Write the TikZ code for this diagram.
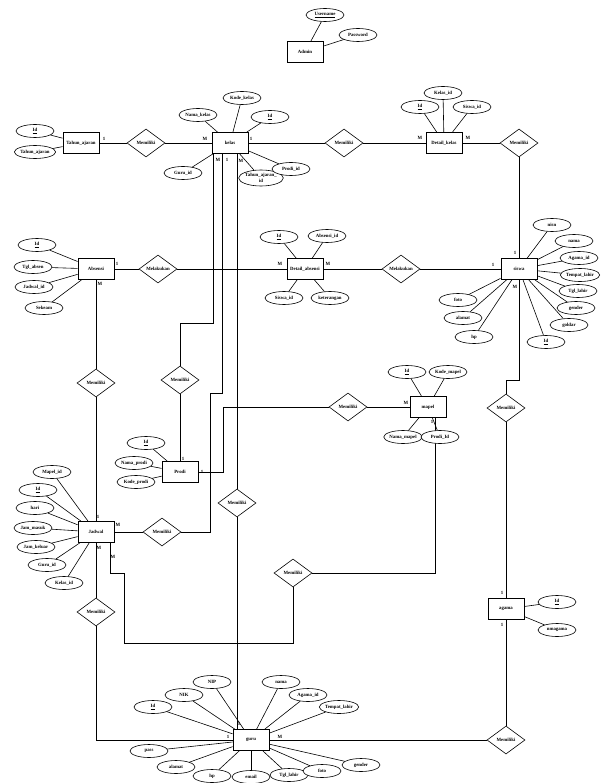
\documentclass[tikz,border=0pt]{standalone}
\usepackage{fontspec}
\setmainfont{Liberation Serif}
\usetikzlibrary{shapes.geometric}
\begin{document}
\begin{tikzpicture}[x=1pt,y=-1pt,
  every node/.style={font=\fontsize{4.8}{5.4}\selectfont\bfseries, inner sep=0pt},
  ent/.style={draw, line width=0.9pt, minimum width=36pt, minimum height=21pt},
  att/.style={draw, ellipse, line width=0.6pt, minimum width=38pt, minimum height=13pt, fill=white},
  rel/.style={draw, diamond, line width=0.6pt, minimum width=38pt, minimum height=28pt},
  card/.style={font=\fontsize{4.8}{5.4}\selectfont\bfseries},
  lnk/.style={line width=0.6pt}]
\useasboundingbox (0,0) rectangle (605,783);

% ---------- bend points ----------
\coordinate (b1) at (519,380); \coordinate (b2) at (506,380);
\coordinate (g1) at (96,740);
\coordinate (k1) at (210,532); \coordinate (k2) at (210,393); \coordinate (k3) at (222,393);
\coordinate (m1) at (110,573); \coordinate (m2) at (124,573); \coordinate (m3) at (124,643);
\coordinate (m4) at (293,643); \coordinate (m5) at (435,573);
\coordinate (p1) at (213,323); \coordinate (p2) at (180,323);
\coordinate (q1) at (223,472); \coordinate (q2) at (223,407);

% ---------- entities and relations ----------
\node[ent] (admin) at (305,52) {Admin};
\node[ent] (tahun) at (81,143) {Tahun\_ajaran};
\node[rel] (rTk) at (146,143) {Memiliki};
\node[ent] (kelas) at (230,143) {kelas};
\node[rel] (rKd) at (344,143) {Memiliki};
\node[ent] (dkelas) at (444,143) {Detail\_kelas};
\node[rel] (rDs) at (519,143) {Memiliki};
\node[ent] (siswa) at (519,269) {siswa};
\node[ent] (absensi) at (96,269) {Absensi};
\node[rel] (rAb) at (158,269) {Melakukan};
\node[ent] (dabs) at (305,269) {Detail\_absensi};
\node[rel] (rDa) at (401,269) {Melakukan};
\node[ent] (prodi) at (180,472) {Prodi};
\node[rel] (rKp) at (180,380) {Memiliki};
\node[rel] (rPm) at (348,407) {Memiliki};
\node[ent] (mapel) at (428,407) {mapel};
\node[ent] (jadwal) at (96,532) {Jadwal};
\node[rel] (rAj) at (96,383) {Memiliki};
\node[rel] (rJk) at (162,532) {Memiliki};
\node[rel] (rJm) at (293,573) {Memiliki};
\node[rel] (rJg) at (96,612) {Memiliki};
\node[rel] (rKg) at (237,503) {Memiliki};
\node[rel] (rAg) at (506,408) {Memiliki};
\node[ent] (agama) at (506,609) {agama};
\node[rel] (rGa) at (506,740) {Memiliki};
\node[ent] (guru) at (251,740) {guru};

% ---------- relationship connectors ----------
\draw[lnk] (tahun) -- (rTk) -- (kelas);
\draw[lnk] (kelas) -- (rKd) -- (dkelas);
\draw[lnk] (dkelas) -- (rDs) -- (siswa);
\draw[lnk] (absensi) -- (rAb) -- (dabs) -- (rDa) -- (siswa);
\draw[lnk] (siswa.south) -- (b1) -- (b2) -- (rAg.north);
\draw[lnk] (rAg) -- (agama);
\draw[lnk] (agama) -- (rGa);
\draw[lnk] (guru) -- (rGa);
\draw[lnk] (absensi) -- (rAj) -- (jadwal);
\draw[lnk] (jadwal) -- (rJg) -- (g1) -- (guru.west);
\draw[lnk] (jadwal) -- (rJk) -- (k1) -- (k2) -- (k3) -- (kelas.south -| k3);
\draw[lnk] (jadwal.south -| m1) -- (m1) -- (m2) -- (m3) -- (m4) -- (rJm) -- (m5) -- (mapel.south -| m5);
\draw[lnk] (kelas.south -| p1) -- (p1) -- (p2) -- (rKp) -- (prodi);
\draw[lnk] (kelas.south -| rKg) -- (rKg) -- (guru.north -| rKg);
\draw[lnk] (prodi.east |- q1) -- (q1) -- (q2) -- (rPm) -- (mapel);

% ---------- attributes ----------
\node[att] (aUser) at (325,15) {\underline{Username}};
\node[att] (aPass) at (358,35) {Password};
\foreach \a in {aUser,aPass} \draw[lnk] (admin) -- (\a);

\node[att] (tId) at (35,131) {\underline{Id}};
\node[att] (tTa) at (35,152) {Tahun\_ajaran};
\foreach \a in {tId,tTa} \draw[lnk] (tahun) -- (\a);

\node[att] (kNama) at (198,115) {Nama\_kelas};
\node[att] (kKode) at (242,98) {Kode\_kelas};
\node[att] (kId) at (270,117) {\underline{Id}};
\node[att] (kGuru) at (183,173) {Guru\_id};
\node[att, align=center, minimum height=16pt] (kTa) at (261,178) {Tahun\_ajaran\_\\id};
\node[att] (kProdi) at (291,169) {Prodi\_id};
\foreach \a in {kNama,kKode,kId,kGuru,kTa,kProdi} \draw[lnk] (kelas) -- (\a);

\node[att] (dId) at (420,107) {\underline{Id}};
\node[att] (dKelas) at (443,93) {Kelas\_id};
\node[att] (dSiswa) at (472,107) {Siswa\_id};
\foreach \a in {dId,dKelas,dSiswa} \draw[lnk] (dkelas) -- (\a);

\node[att] (sNisn) at (552,225) {nisn};
\node[att] (sNama) at (574,241) {nama};
\node[att] (sAgama) at (579,258) {Agama\_id};
\node[att] (sTempat) at (580,275) {Tempat\_lahir};
\node[att] (sTgl) at (578,291) {Tgl\_lahir};
\node[att] (sGender) at (576,308) {gender};
\node[att] (sGoldar) at (569,325) {goldar};
\node[att] (sId) at (546,342) {\underline{Id}};
\node[att] (sFoto) at (458,300) {foto};
\node[att] (sAlamat) at (463,318) {alamat};
\node[att] (sHp) at (474,337) {hp};
\foreach \a in {sNisn,sNama,sAgama,sTempat,sTgl,sGender,sGoldar,sId,sFoto,sAlamat,sHp} \draw[lnk] (siswa) -- (\a);

\node[att] (abId) at (37,245) {\underline{Id}};
\node[att] (abTgl) at (33,267) {Tgl\_absen};
\node[att] (abJadwal) at (34,287) {Jadwal\_id};
\node[att] (abKet) at (44,308) {Sekeam};
\foreach \a in {abId,abTgl,abJadwal,abKet} \draw[lnk] (absensi) -- (\a);

\node[att] (daId) at (279,237) {\underline{Id}};
\node[att] (daAbs) at (327,236) {Absensi\_id};
\node[att] (daSiswa) at (284,298) {Siswa\_id};
\node[att] (daKet) at (330,298) {keterangan};
\foreach \a in {daId,daAbs,daSiswa,daKet} \draw[lnk] (dabs) -- (\a);

\node[att] (pId) at (146,443) {\underline{Id}};
\node[att] (pNama) at (134,463) {Nama\_prodi};
\node[att] (pKode) at (136,482) {Kode\_prodi};
\foreach \a in {pId,pNama,pKode} \draw[lnk] (prodi) -- (\a);

\node[att] (mId) at (407,372) {\underline{Id}};
\node[att] (mKode) at (448,372) {Kode\_mapel};
\node[att] (mNama) at (403,437) {Nama\_mapel};
\node[att] (mProdi) at (440,437) {Prodi\_Id};
\foreach \a in {mId,mKode,mNama,mProdi} \draw[lnk] (mapel) -- (\a);

\node[att] (jMapel) at (52,472) {Mapel\_id};
\node[att] (jId) at (38,490) {\underline{Id}};
\node[att] (jHari) at (35,508) {hari};
\node[att] (jMasuk) at (33,528) {Jam\_masuk};
\node[att] (jKeluar) at (36,547) {Jam\_keluar};
\node[att] (jGuru) at (47,565) {Guru\_id};
\node[att] (jKelas) at (64,583) {Kelas\_id};
\foreach \a in {jMapel,jId,jHari,jMasuk,jKeluar,jGuru,jKelas} \draw[lnk] (jadwal) -- (\a);

\node[att] (agId) at (557,602) {\underline{Id}};
\node[att] (agNm) at (557,630) {nmagama};
\foreach \a in {agId,agNm} \draw[lnk] (agama) -- (\a);

\node[att] (gId) at (153,707) {\underline{Id}};
\node[att] (gNik) at (184,695) {NIK};
\node[att] (gNip) at (212,682) {NIP};
\node[att] (gNama) at (281,682) {nama};
\node[att] (gAgama) at (308,695) {Agama\_id};
\node[att] (gTempat) at (339,707) {Tempat\_lahir};
\node[att] (gPass) at (149,751) {pass};
\node[att] (gAlamat) at (176,767) {alamat};
\node[att] (gHp) at (212,776) {hp};
\node[att] (gEmail) at (251,777) {email};
\node[att] (gTgl) at (289,775) {Tgl\_lahir};
\node[att] (gFoto) at (322,771) {foto};
\node[att] (gGender) at (361,765) {gender};
\foreach \a in {gId,gNik,gNip,gNama,gAgama,gTempat,gPass,gAlamat,gHp,gEmail,gTgl,gFoto,gGender} \draw[lnk] (guru) -- (\a);

% ---------- cardinalities ----------
\node[card] (c01) at (104,139) {1};
\node[card] (c02) at (205,139) {M};
\node[card] (c03) at (251,139) {1};
\node[card] (c04) at (420,138) {M};
\node[card] (c05) at (468,138) {M};
\node[card] (c06) at (515,253) {1};
\node[card] (c07) at (493,265) {1};
\node[card] (c08) at (515,287) {M};
\node[card] (c09) at (117,264) {1};
\node[card] (c10) at (100,284) {M};
\node[card] (c11) at (280,264) {M};
\node[card] (c12) at (328,264) {M};
\node[card] (c13) at (218,160) {M};
\node[card] (c14) at (227,160) {1};
\node[card] (c15) at (241,161) {M};
\node[card] (c16) at (183,459) {1};
\node[card] (c17) at (202,472) {1};
\node[card] (c18) at (406,403) {M};
\node[card] (c19) at (432,422) {1};
\node[card] (c20) at (98,517) {1};
\node[card] (c21) at (118,525) {M};
\node[card] (c22) at (99,548) {M};
\node[card] (c23) at (113,557) {M};
\node[card] (c24) at (502,593) {1};
\node[card] (c25) at (502,625) {1};
\node[card] (c26) at (239,724) {1};
\node[card] (c27) at (228,737) {1};
\node[card] (c28) at (280,737) {M};
\end{tikzpicture}
\end{document}
